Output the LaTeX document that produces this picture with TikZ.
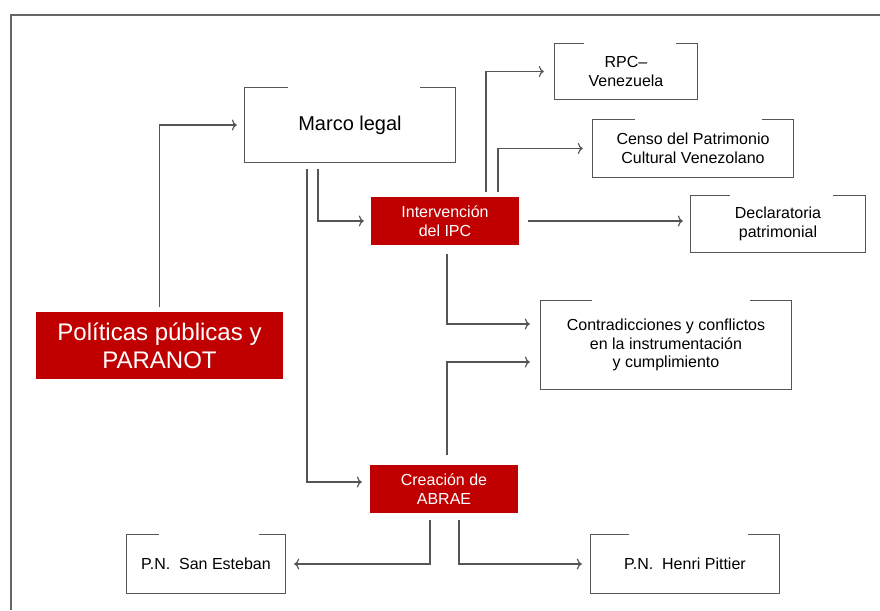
\documentclass[tikz,border=0pt]{standalone}
\usepackage{fontspec}
\setmainfont{Liberation Sans}
\usetikzlibrary{calc,arrows.meta}
\definecolor{ipcred}{HTML}{C00000}
\definecolor{linegray}{HTML}{555555}

\begin{document}
\begin{tikzpicture}[x=1pt,y=-1pt,
  txt/.style={font=\fontsize{16}{18.5}\selectfont,align=center,inner sep=0pt},
  plain/.style={txt,text=black},
  redbox/.style={txt,fill=ipcred,text=white},
  conn/.style={draw=linegray,line width=1.2pt,-{To[length=5pt,width=11pt]}}]
  \useasboundingbox (0,0) rectangle (880,610);
  % outer frame
  \draw[line width=1.4pt,gray!80!black] (11,610) -- (11,15) -- (880,15);
  % red boxes
  \node[redbox,minimum width=247,minimum height=67,font=\fontsize{24}{28}\selectfont] (pol) at (159.5,345.5) {Políticas públicas y\\PARANOT};
  \node[redbox,minimum width=148,minimum height=48] (ipc) at (445,221) {Intervención\\del IPC};
  \node[redbox,minimum width=148,minimum height=48] (abrae) at (444,489) {Creación de\\ABRAE};
  % open boxes
  \node[plain,minimum width=210,minimum height=74,font=\fontsize{20}{24}\selectfont] (ml) at (350,125) {Marco legal};
  \node[plain,minimum width=142,minimum height=55] (rpc) at (626,71.5) {RPC–\\Venezuela};
  \node[plain,minimum width=200,minimum height=57] (censo) at (693,148.5) {Censo del Patrimonio\\Cultural Venezolano};
  \node[plain,minimum width=174,minimum height=56] (decl) at (778,224) {Declaratoria\\patrimonial};
  \node[plain,minimum width=250,minimum height=88] (contra) at (666,345) {Contradicciones y conflictos\\en la instrumentación\\y cumplimiento};
  \node[plain,minimum width=158,minimum height=58] (sanest) at (206,564) {P.N.\ \ San Esteban};
  \node[plain,minimum width=188,minimum height=58] (pittier) at (685,564) {P.N.\ \ Henri Pittier};
  % frames with a gap in the top side
  \foreach \n/\a/\b in {ml/43/35, rpc/29/21, censo/42/31, decl/39/32, contra/51/41, sanest/32/26, pittier/38/31}
    \draw[line width=1.2pt,linegray] ([xshift=\a]\n.north west) -- (\n.north west) |- (\n.south east) -- (\n.north east) -- ([xshift=-\b]\n.north east);
  % connectors
  \draw[conn,shorten <=5pt,shorten >=8pt] (pol.north) |- (ml.west);
  \draw[conn,shorten <=7pt,shorten >=7pt] ([xshift=-32]ml.south) |- (ipc.west);
  \draw[conn,shorten <=7pt,shorten >=8pt] ([xshift=-43]ml.south) |- ([yshift=7]abrae.west);
  \draw[conn,shorten <=5pt,shorten >=11pt] ([xshift=41]ipc.north) |- (rpc.west);
  \draw[conn,shorten <=5pt,shorten >=10pt] ([xshift=53]ipc.north) |- (censo.west);
  \draw[conn,shorten <=9pt,shorten >=8pt] (ipc.east) -- (ipc.east -| decl.west);
  \draw[conn,shorten <=9pt,shorten >=11pt] ([xshift=2]ipc.south) |- ([yshift=21]contra.west);
  \draw[conn,shorten <=10pt,shorten >=11pt] ([xshift=3]abrae.north) |- ([yshift=-17]contra.west);
  \draw[conn,shorten <=7pt,shorten >=9pt] ([xshift=-14]abrae.south) |- (sanest.east);
  \draw[conn,shorten <=7pt,shorten >=9pt] ([xshift=15]abrae.south) |- (pittier.west);
\end{tikzpicture}
\end{document}
